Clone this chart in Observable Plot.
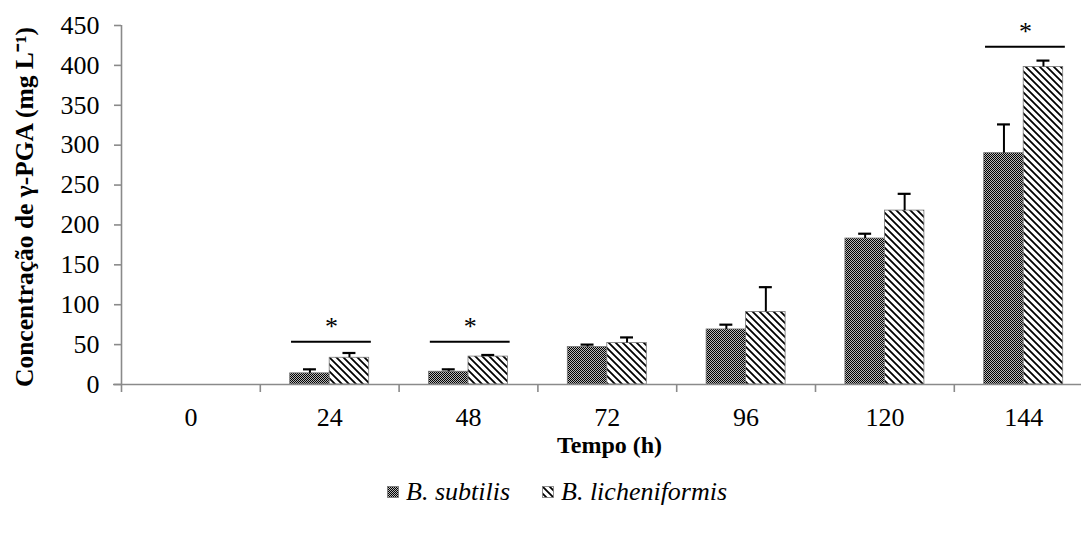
<!DOCTYPE html>
<html>
<head>
<meta charset="utf-8">
<script src="https://cdn.jsdelivr.net/npm/d3@7"></script>
<script src="https://cdn.jsdelivr.net/npm/@observablehq/plot@0.6"></script>
<style>
  body { margin: 0; background: #fff; font-family: "Liberation Serif", "Times New Roman", serif; }
  #chart { width: 1081px; }
  .legend { display: flex; align-items: center; margin-left: 387px; margin-top: 7px; height: 30px;
            font-style: italic; font-size: 26px; color: #000; }
  .legend svg { margin-right: 7px; }
  .legend .item { display: flex; align-items: center; margin-right: 32px; }
</style>
</head>
<body>
<div id="chart"></div>
<script>
// Sampling times (h)
const hours = [0, 24, 48, 72, 96, 120, 144];
// γ-PGA concentration (mg L-1) and standard deviation
const subtilis = [0, 14, 16, 47, 69, 183, 290];
const subtilisErr = [0, 5, 3, 3, 6, 6, 36];
const licheniformis = [0, 33.5, 35, 52, 91, 218, 398];
const licheniformisErr = [0, 6, 2, 7, 31, 21, 8];
// Times with a significant difference between strains, and the bracket level
const sigHours = [24, 48, 144];
const sigLevel = [53.5, 53.5, 423.5];
const yTicks = [0, 50, 100, 150, 200, 250, 300, 350, 400, 450];
const seriesNames = ["B. subtilis", "B. licheniformis"];

const FONT = '"Liberation Serif", "Times New Roman", serif';
const AXIS = "#8a8a8a";
const BAR = 6.83;     // bar width in hours
const CAP = 1.12;     // half width of error-bar cap in hours

const sub = hours.map((t, i) => ({t, x1: t - BAR, x2: t, c: t - BAR / 2, v: subtilis[i], e: subtilisErr[i]}));
const lic = hours.map((t, i) => ({t, x1: t, x2: t + BAR, c: t + BAR / 2, v: licheniformis[i], e: licheniformisErr[i]}));
const errs = [...sub, ...lic].filter(d => d.e > 0);
const sig = sigHours.map((t, i) => ({t, level: sigLevel[i]}));
const boundaries = d3.range(-12, 157, 24);

const chart = Plot.plot({
  width: 1081,
  height: 470,
  marginLeft: 121,
  marginRight: 0,
  marginTop: 25,
  marginBottom: 86,
  style: {fontFamily: FONT, color: "#000", background: "#fff", overflow: "hidden"},
  x: {domain: [-12, 156], range: [121, 1092.6]},
  y: {domain: [0, 450]},
  marks: [
    Plot.rectY(sub, {x1: "x1", x2: "x2", y: "v", fill: "url(#pat-sub)", stroke: "#777", strokeWidth: 0.8}),
    Plot.rectY(lic, {x1: "x1", x2: "x2", y: "v", fill: "url(#pat-lic)", stroke: "#777", strokeWidth: 0.8}),
    Plot.ruleX(errs, {x: "c", y1: "v", y2: d => d.v + d.e, stroke: "#000", strokeWidth: 2}),
    Plot.ruleY(errs, {y: d => d.v + d.e, x1: d => d.c - CAP, x2: d => d.c + CAP, stroke: "#000", strokeWidth: 2.2}),
    // significance brackets
    Plot.ruleY(sig, {y: "level", x1: d => d.t - 6.6, x2: d => d.t + 7.2, stroke: "#000", strokeWidth: 2}),
    Plot.text(sig, {x: d => d.t + 0.3, y: "level", text: () => "*", dy: -15, fontSize: 26}),
    // axes
    Plot.ruleY([0], {stroke: AXIS, strokeWidth: 1.6, insetLeft: -8}),
    Plot.ruleX([-12], {stroke: AXIS, strokeWidth: 1.6}),
    Plot.axisY(yTicks, {tickSize: 7, tickPadding: 15, fontSize: 26, stroke: AXIS, strokeWidth: 1.6, label: null}),
    Plot.axisX(boundaries, {tickSize: 8, tickFormat: () => "", stroke: AXIS, strokeWidth: 1.6, label: null}),
    Plot.axisX(hours, {tickSize: 0, tickPadding: 23, fontSize: 26, label: null}),
    Plot.text(["Tempo (h)"], {frameAnchor: "bottom", lineAnchor: "middle", textAnchor: "middle",
      dx: 8, dy: 61, fontWeight: "bold", fontSize: 24}),
    Plot.text(["Concentração de γ-PGA (mg L⁻¹)"], {frameAnchor: "left", rotate: -90, textAnchor: "middle",
      lineAnchor: "middle", dx: -97, dy: 2, fontWeight: "bold", fontSize: 25.5})
  ]
});

// fill patterns for the two strains
const defs = d3.select(chart).insert("defs", ":first-child");
const pSub = defs.append("pattern").attr("id", "pat-sub").attr("patternUnits", "userSpaceOnUse")
  .attr("width", 2).attr("height", 2);
pSub.append("rect").attr("width", 2).attr("height", 2).attr("fill", "#b8b8b8");
pSub.append("rect").attr("width", 1).attr("height", 1).attr("fill", "#000");
pSub.append("rect").attr("x", 1).attr("y", 1).attr("width", 1).attr("height", 1).attr("fill", "#000");
const pLic = defs.append("pattern").attr("id", "pat-lic").attr("patternUnits", "userSpaceOnUse")
  .attr("width", 7).attr("height", 7);
pLic.append("rect").attr("width", 7).attr("height", 7).attr("fill", "#fff");
pLic.append("path").attr("d", "M0,0L7,7M-1,6L1,8M6,-1L8,1").attr("stroke", "#000").attr("stroke-width", 1.8);

document.getElementById("chart").append(chart);

// legend below the chart
const legend = d3.select("#chart").append("div").attr("class", "legend");
["pat-sub", "pat-lic"].forEach((id, i) => {
  const item = legend.append("div").attr("class", "item");
  const sw = item.append("svg").attr("width", 12).attr("height", 12);
  sw.append("rect").attr("x", 0.5).attr("y", 0.5).attr("width", 11).attr("height", 11)
    .attr("fill", `url(#${id})`).attr("stroke", "#777").attr("stroke-width", 0.8);
  item.append("span").text(seriesNames[i]);
});
</script>
</body>
</html>
